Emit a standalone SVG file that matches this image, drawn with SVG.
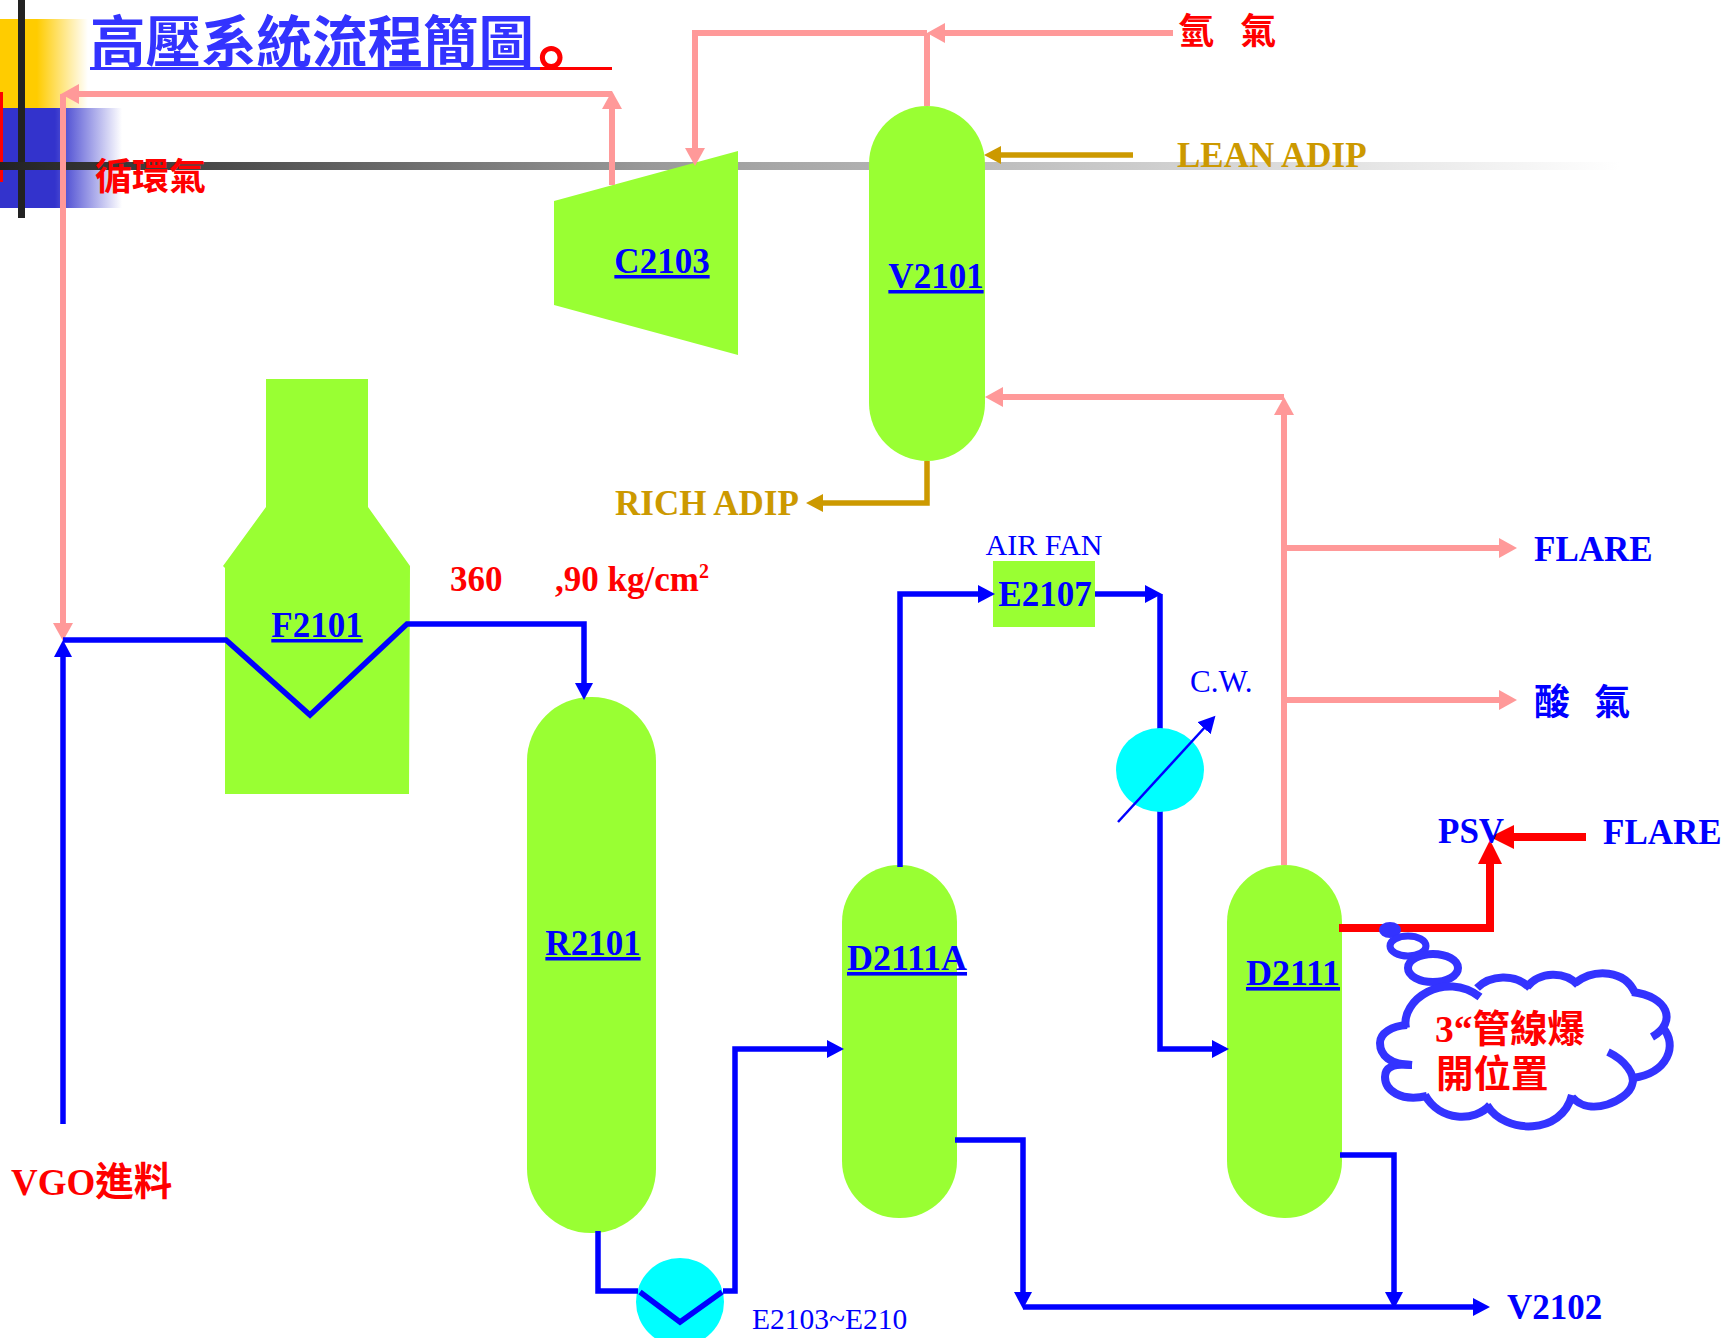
<svg xmlns="http://www.w3.org/2000/svg" width="1725" height="1338" viewBox="0 0 1725 1338">
<style>
text{font-family:"Liberation Serif","Noto Sans CJK TC",serif}
.cjk{font-family:"Noto Sans CJK TC","Liberation Sans",sans-serif;font-weight:700}
.eq{fill:#99FF33}
.lab{font-size:35px;font-weight:700;fill:#0000FF;text-anchor:middle;text-decoration:underline;text-decoration-thickness:2px;text-underline-offset:4px}
.b{font-size:35px;font-weight:700;fill:#0000FF}
.r{font-size:35px;font-weight:700;fill:#FF0000}
.g{font-size:35px;font-weight:700;fill:#CC9900}
.t{font-size:30px;fill:#0000FF}
.pink,.blue,.gold,.red{fill:none;stroke-linejoin:miter}
.pink{stroke:#FF9999;stroke-width:6}
.blue{stroke:#0000FF;stroke-width:5.5}
.gold{stroke:#CC9900;stroke-width:5.5}
.red{stroke:#FF0000;stroke-width:8}
.cloud{fill:none;stroke:#3333FF;stroke-width:8}
</style>
<defs>
<linearGradient id="gy"><stop offset="0.42" stop-color="#FFCC00"/><stop offset="1" stop-color="#FFCC00" stop-opacity="0"/></linearGradient>
<linearGradient id="gb"><stop offset="0.45" stop-color="#3333CC"/><stop offset="1" stop-color="#3333CC" stop-opacity="0"/></linearGradient>
<linearGradient id="gk"><stop offset="0" stop-color="#222222"/><stop offset="0.4" stop-color="#999999"/><stop offset="1" stop-color="#FFFFFF"/></linearGradient>
<marker id="ap" markerUnits="userSpaceOnUse" markerWidth="20" markerHeight="22" refX="3" refY="11" orient="auto"><path d="M0 1L18 11L0 21Z" fill="#FF9999"/></marker>
<marker id="ab" markerUnits="userSpaceOnUse" markerWidth="20" markerHeight="22" refX="3" refY="11" orient="auto"><path d="M0 2L17 11L0 20Z" fill="#0000FF"/></marker>
<marker id="ag" markerUnits="userSpaceOnUse" markerWidth="20" markerHeight="22" refX="3" refY="11" orient="auto"><path d="M0 2L17 11L0 20Z" fill="#CC9900"/></marker>
<marker id="ar" markerUnits="userSpaceOnUse" markerWidth="26" markerHeight="28" refX="3" refY="14" orient="auto"><path d="M0 2L24 14L0 26Z" fill="#FF0000"/></marker>
</defs>
<g id="background">
<rect x="0" y="19" width="88" height="89" fill="url(#gy)"/>
<rect x="0" y="108" width="122" height="100" fill="url(#gb)"/>
<rect x="0" y="92" width="3" height="90" fill="#FF0000"/>
<rect x="18" y="0" width="7" height="218" fill="#222222"/>
<rect x="0" y="162" width="1620" height="8" fill="url(#gk)"/>
</g>
<g id="title">
<text class="cjk" x="90" y="62" font-size="55.5" fill="#3333FF">高壓系統流程簡圖</text>
<text class="cjk" x="516" y="84" font-size="70" fill="#FF0000">。</text>
<rect x="90" y="67" width="450" height="3" fill="#3333FF"/>
<rect x="540" y="67" width="72" height="3" fill="#FF0000"/>
</g>
<g id="C2103"><polygon class="eq" points="554,201 738,151 738,355 554,305"/><text class="lab" x="662" y="273">C2103</text></g>
<g id="V2101"><rect class="eq" x="869" y="106" width="116" height="355" rx="58"/><text class="lab" x="936" y="288">V2101</text></g>
<g id="F2101"><polygon class="eq" points="266,379 368,379 368,507 410,566 409,794 225,794 225,568 223,566 266,507"/><text class="lab" x="317" y="637">F2101</text></g>
<g id="R2101"><rect class="eq" x="527" y="697" width="129" height="536" rx="64"/><text class="lab" x="593" y="955">R2101</text></g>
<g id="E2103"><circle cx="680" cy="1302" r="44" fill="#00FFFF"/><text class="t" x="752" y="1329" style="font-size:29.5px">E2103~E210</text></g>
<g id="D2111A"><rect class="eq" x="842" y="865" width="115" height="353" rx="57"/><text class="lab" x="907" y="970" style="font-size:36px">D2111A</text></g>
<g id="D2111"><rect class="eq" x="1227" y="865" width="115" height="353" rx="57"/><text class="lab" x="1293" y="985" style="font-size:36px">D2111</text></g>
<g id="E2107"><rect class="eq" x="993" y="561" width="102" height="66"/><text class="b" x="1045" y="606" text-anchor="middle">E2107</text><text class="t" x="1044" y="555" text-anchor="middle">AIR FAN</text></g>
<g id="connectors">
<path class="pink" d="M612 185V106" marker-end="url(#ap)"/>
<path class="pink" d="M612 94H76" marker-end="url(#ap)"/>
<path class="pink" d="M63 94V626" marker-end="url(#ap)"/>
<path class="pink" d="M927 106V33"/>
<path class="pink" d="M1173 33H942" marker-end="url(#ap)"/>
<path class="pink" d="M927 33H695V151" marker-end="url(#ap)"/>
<path class="pink" d="M1284 865V412" marker-end="url(#ap)"/>
<path class="pink" d="M1284 397H1000" marker-end="url(#ap)"/>
<path class="pink" d="M1284 548H1502" marker-end="url(#ap)"/>
<path class="pink" d="M1284 700H1502" marker-end="url(#ap)"/>
<path class="gold" d="M1133 155H998" marker-end="url(#ag)"/>
<path class="gold" d="M927 461V503H820" marker-end="url(#ag)"/>
<path class="blue" d="M63 1124V654" marker-end="url(#ab)"/>
<path class="blue" d="M63 640H226L310 715L407 624H584V686" marker-end="url(#ab)"/>
<path class="blue" d="M598 1231V1291H638M640 1292L680 1322L722 1292M723 1291H735V1049H830" marker-end="url(#ab)"/>
<path class="blue" d="M900 867V594H981" marker-end="url(#ab)"/>
<path class="blue" d="M1095 594H1148" marker-end="url(#ab)"/>
<path class="blue" d="M1160 594V1049H1215" marker-end="url(#ab)"/>
<path class="blue" d="M955 1140H1023V1295" marker-end="url(#ab)"/>
<path class="blue" d="M1023 1307H1476" marker-end="url(#ab)"/>
<path class="blue" d="M1340 1155H1394V1295" marker-end="url(#ab)"/>
<path class="red" d="M1339 928H1490V861" marker-end="url(#ar)"/>
<path class="red" d="M1586 837H1511" marker-end="url(#ar)"/>
</g>
<g id="CW"><ellipse cx="1160" cy="770" rx="44" ry="42" fill="#00FFFF"/><path d="M1118 822L1206 726" fill="none" stroke="#0000FF" stroke-width="2.5" marker-end="url(#ab)"/><text class="t" x="1190" y="692" style="font-size:31px">C.W.</text></g>
<g id="cloud">
<ellipse cx="1390" cy="930" rx="11" ry="8" fill="#3333FF"/>
<ellipse cx="1408" cy="946" rx="18" ry="10" class="cloud" style="stroke-width:7"/>
<ellipse cx="1433" cy="968" rx="25" ry="14" class="cloud"/>
<path class="cloud" d="M1406 1028C1400 1000 1445 970 1480 997"/>
<path class="cloud" d="M1477 988C1490 975 1515 973 1530 988"/>
<path class="cloud" d="M1527 987C1540 971 1565 971 1578 985"/>
<path class="cloud" d="M1575 983C1595 968 1625 970 1635 993"/>
<path class="cloud" d="M1632 992C1668 996 1678 1022 1652 1037"/>
<path class="cloud" d="M1663 1028C1678 1045 1668 1073 1633 1078"/>
<path class="cloud" d="M1608 1052C1625 1060 1636 1075 1632 1085C1628 1100 1590 1118 1572 1097"/>
<path class="cloud" d="M1572 1095C1562 1135 1505 1135 1487 1105"/>
<path class="cloud" d="M1490 1105C1475 1122 1440 1122 1425 1095"/>
<path class="cloud" d="M1427 1096C1400 1102 1385 1090 1385 1077C1385 1068 1392 1063 1412 1065"/>
<path class="cloud" d="M1412 1065C1390 1065 1380 1055 1380 1043C1380 1033 1392 1026 1407 1025"/>
<text class="r" x="1435" y="1042" style="font-size:37.5px">3“<tspan class="cjk">管線爆</tspan></text>
<text class="r cjk" x="1436" y="1087" style="font-size:37.5px">開位置</text>
</g>
<g id="labels">
<text class="r cjk" x="95" y="190" style="font-size:37px">循環氣</text>
<text class="r cjk" x="1178" y="44" style="font-size:36px;word-spacing:5px" xml:space="preserve">氫  氣</text>
<text class="g" x="1177" y="167">LEAN ADIP</text>
<text class="g" x="615" y="515">RICH ADIP</text>
<text class="r" x="450" y="591">360</text>
<text class="r" x="555" y="591">,90 kg/cm<tspan font-size="20" dy="-13">2</tspan></text>
<text class="b" x="1534" y="561">FLARE</text>
<text class="b cjk" x="1534" y="715" style="font-size:36px;word-spacing:4px" xml:space="preserve">酸  氣</text>
<text class="b" x="1438" y="843">PSV</text>
<text class="b" x="1603" y="844">FLARE</text>
<text class="b" x="1507" y="1319">V2102</text>
<text class="r" x="11" y="1195" style="font-size:37px">VGO<tspan class="cjk" style="font-size:38.5px">進料</tspan></text>
</g>
</svg>
